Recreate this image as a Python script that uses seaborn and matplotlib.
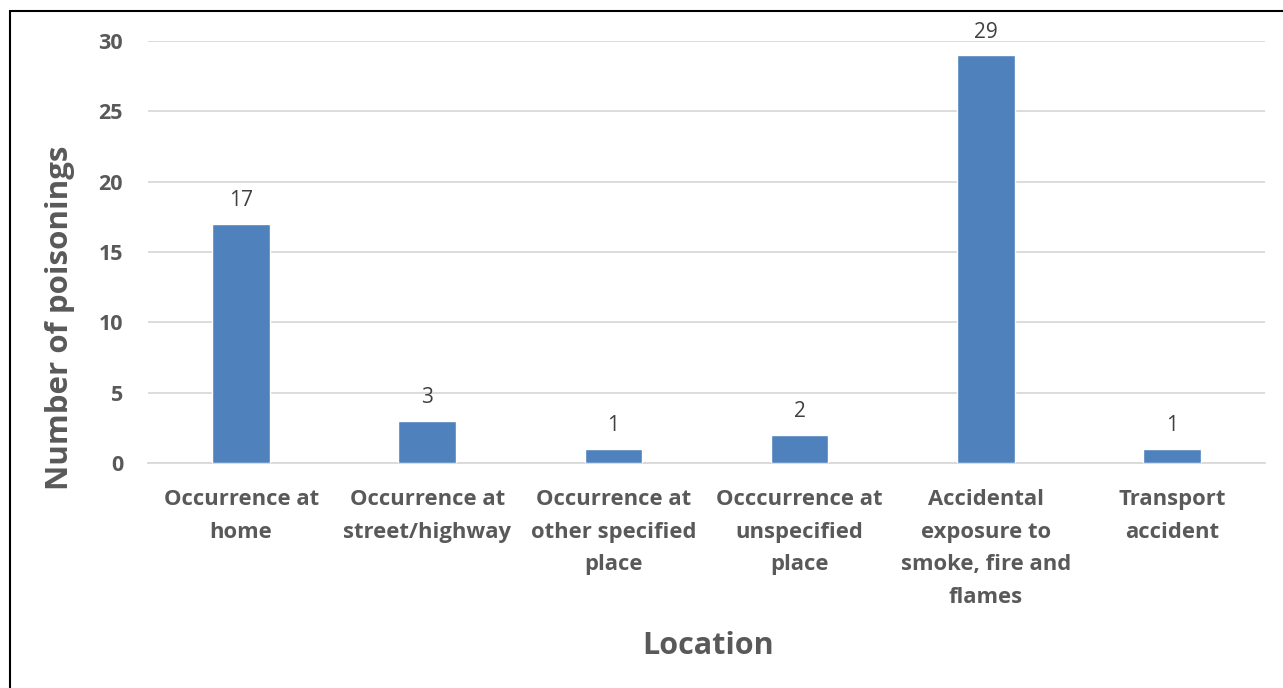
import matplotlib
matplotlib.use("Agg")
import matplotlib.pyplot as plt
import seaborn as sns
import pandas as pd
from matplotlib.patches import Rectangle

# data
locations = [
    "Occurrence at\nhome",
    "Occurrence at\nstreet/highway",
    "Occurrence at\nother specified\nplace",
    "Occcurrence at\nunspecified\nplace",
    "Accidental\nexposure to\nsmoke, fire and\nflames",
    "Transport\naccident",
]
poisonings = [17, 3, 1, 2, 29, 1]
y_ticks = [0, 5, 10, 15, 20, 25, 30]

sns.set_theme(style="white")
plt.rcParams["font.family"] = ["Open Sans", "DejaVu Sans"]

text_grey = "#595959"
bar_blue = "#4F81BD"

df = pd.DataFrame({"location": locations, "count": poisonings})

fig = plt.figure(figsize=(12.83, 6.88), dpi=100)
ax = fig.add_axes([148 / 1283, 1 - 463 / 688, (1265 - 148) / 1283, (463 - 41) / 688])

sns.barplot(data=df, x="location", y="count", color=bar_blue, width=0.31,
            saturation=1, ax=ax, zorder=3)

ax.set_xlim(-0.5, len(locations) - 0.5)
ax.set_ylim(0, 30)
ax.set_yticks(y_ticks)
ax.yaxis.grid(True, color="#D9D9D9", linewidth=1.3, zorder=0)
ax.set_axisbelow(True)
for side in ["top", "right", "left"]:
    ax.spines[side].set_visible(False)
ax.spines["bottom"].set_color("#D9D9D9")
ax.spines["bottom"].set_linewidth(1.3)

ax.tick_params(axis="both", length=0, colors=text_grey)
ax.tick_params(axis="y", pad=18)
ax.tick_params(axis="x", pad=18.5)
for lab in ax.get_yticklabels():
    lab.set_fontsize(15.5)
    lab.set_fontweight("bold")
for lab in ax.get_xticklabels():
    lab.set_fontsize(15.8)
    lab.set_fontweight("bold")
    lab.set_linespacing(1.74)

for c in ax.containers:
    ax.bar_label(c, padding=9, fontsize=15, color="#404040")

ax.set_xlabel("Location", fontsize=22, fontweight="bold", color=text_grey)
ax.xaxis.set_label_coords(0.501, -0.399)
ax.set_ylabel("Number of poisonings", fontsize=22.5, fontweight="bold", color=text_grey)
ax.yaxis.set_label_coords(-0.0654, 0.3436)

# outer frame
fig.patches.append(Rectangle((10 / 1283, -0.1), 1.2, 1 - 11 / 688 + 0.1,
                             transform=fig.transFigure, fill=False,
                             edgecolor="black", linewidth=1.5))

fig.savefig("out.png", dpi=100)
